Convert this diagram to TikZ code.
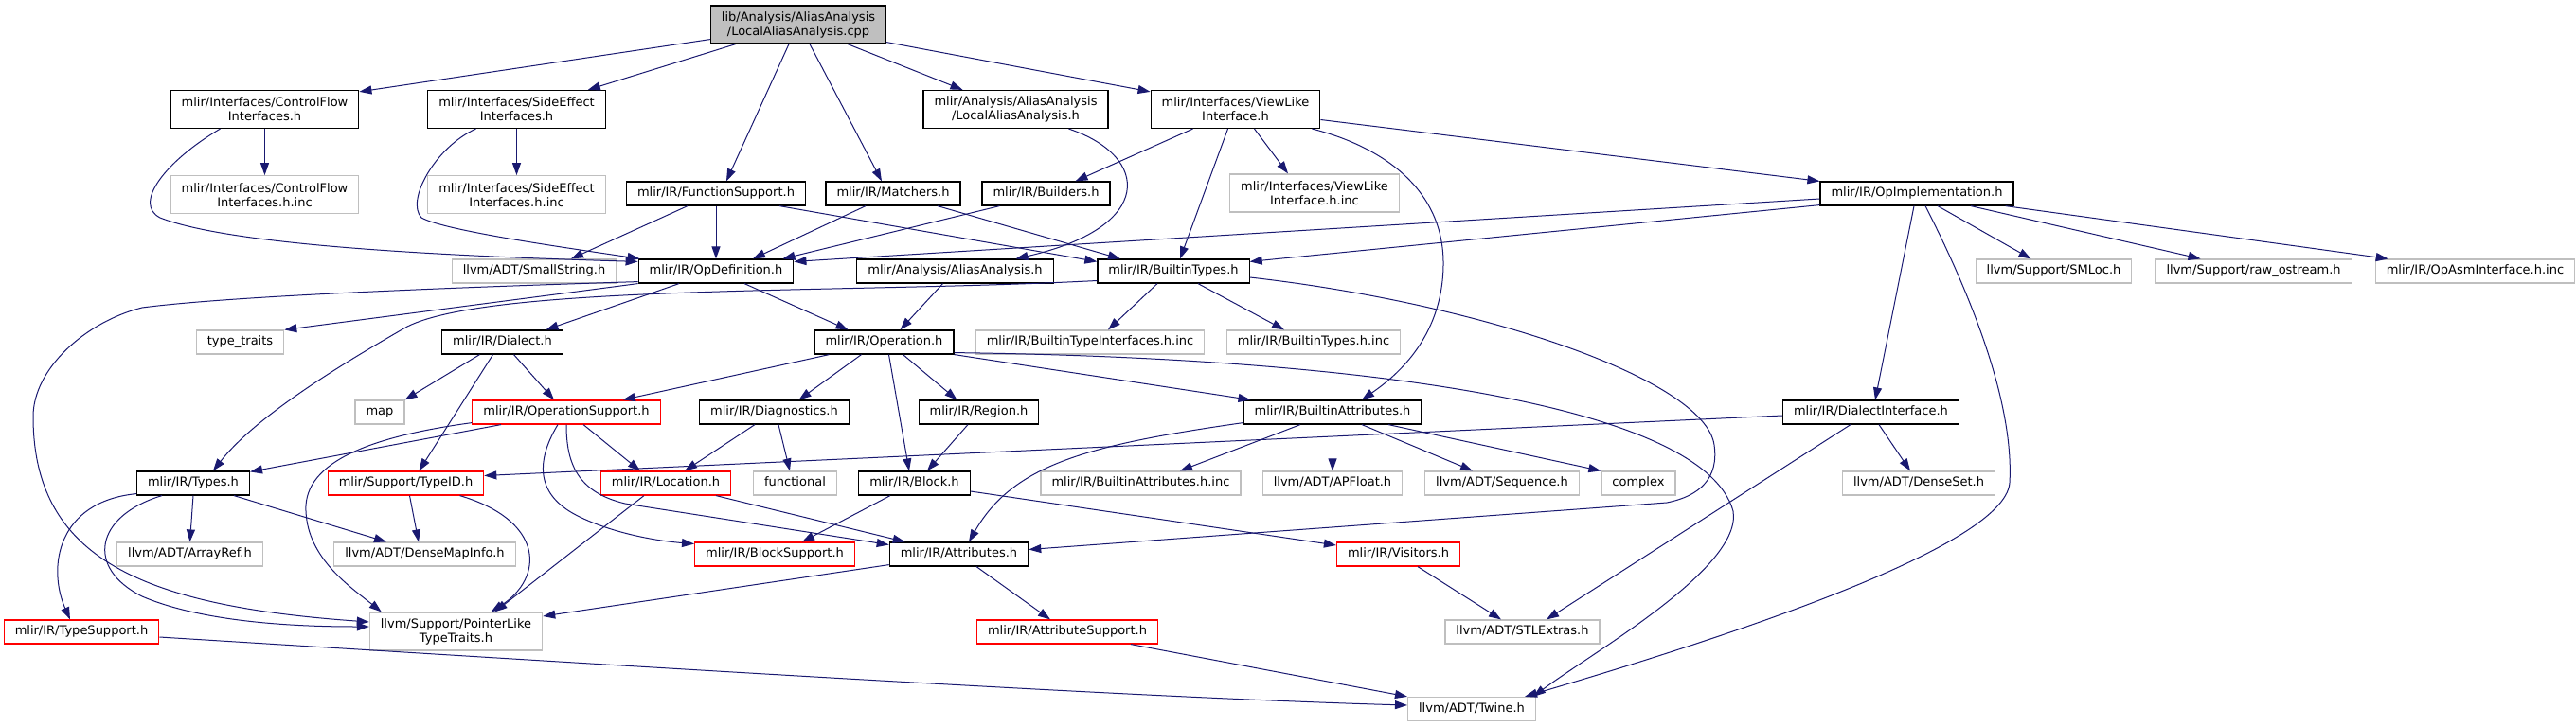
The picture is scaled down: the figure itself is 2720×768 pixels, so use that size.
\documentclass[tikz,border=0pt]{standalone}
\usepackage{fontspec}
\setmainfont{DejaVu Sans}
\usetikzlibrary{arrows.meta, positioning}
\definecolor{edgeblue}{RGB}{25,25,112}
\definecolor{boxgray}{RGB}{191,191,191}

\begin{document}
\begin{tikzpicture}[
    x=1pt, y=-1pt,
    node distance=49pt and 24pt,
    font=\fontsize{13}{15}\selectfont,
    hdr/.style={rectangle, draw=black, fill=white, line width=1.2pt, minimum height=25pt, inner xsep=11.5pt, inner ysep=2pt, text height=9.8pt, text depth=3pt, align=center},
    sys/.style={hdr, draw=boxgray},
    trunc/.style={hdr, draw=red},
    src/.style={hdr, fill=boxgray},
    two/.style={minimum height=40pt, text height={}, text depth={}},
    arrow/.style={-{Triangle[length=13pt, width=9pt]}, line width=1pt, draw=edgeblue}
]
\useasboundingbox (0,0) rectangle (2720,768);

% --- NODES ---
\node (cpp) [src, two] at (843,26) {lib/Analysis/AliasAnalysis\\/LocalAliasAnalysis.cpp};

\node (cfi) [hdr, two] at (279.5,115.5) {mlir/Interfaces/ControlFlow\\Interfaces.h};
\node (sei) [hdr, two] at (545.5,115.5) {mlir/Interfaces/SideEffect\\Interfaces.h};
\node (laah) [hdr, two] at (1072.5,115.5) {mlir/Analysis/AliasAnalysis\\/LocalAliasAnalysis.h};
\node (vli) [hdr, two] at (1304.5,115.5) {mlir/Interfaces/ViewLike\\Interface.h};

\node (cfinc) [sys, two, below=of cfi] {mlir/Interfaces/ControlFlow\\Interfaces.h.inc};
\node (seinc) [sys, two, below=of sei] {mlir/Interfaces/SideEffect\\Interfaces.h.inc};
\node (vlinc) [sys, two] at (1388,204) {mlir/Interfaces/ViewLike\\Interface.h.inc};
\node (fsup) [hdr] at (756,204.5) {mlir/IR/FunctionSupport.h};
\node (match) [hdr] at (943,204.5) {mlir/IR/Matchers.h};
\node (build) [hdr] at (1104.5,204.5) {mlir/IR/Builders.h};
\node (opimpl) [hdr] at (2024,204.5) {mlir/IR/OpImplementation.h};

\node (smallstr) [sys] at (564,286.5) {llvm/ADT/SmallString.h};
\node (opdef) [hdr] at (756,286.5) {mlir/IR/OpDefinition.h};
\node (aa) [hdr] at (1008.5,286.5) {mlir/Analysis/AliasAnalysis.h};
\node (btypes) [hdr] at (1239,286.5) {mlir/IR/BuiltinTypes.h};
\node (smloc) [sys] at (2168.5,286.5) {llvm/Support/SMLoc.h};
\node (rawos) [sys, right=of smloc] {llvm/Support/raw\_ostream.h};
\node (opasm) [sys, right=of rawos] {mlir/IR/OpAsmInterface.h.inc};

\node (stdtraits) [sys] at (253.5,361.5) {type\_traits};
\node (dialect) [hdr] at (530.5,361.5) {mlir/IR/Dialect.h};
\node (operation) [hdr] at (933.5,361.5) {mlir/IR/Operation.h};
\node (btiinc) [sys] at (1151,361.5) {mlir/IR/BuiltinTypeInterfaces.h.inc};
\node (btinc) [sys] at (1387,361.5) {mlir/IR/BuiltinTypes.h.inc};

\node (map) [sys] at (401,435.5) {map};
\node (opsup) [trunc] at (598,435.5) {mlir/IR/OperationSupport.h};
\node (diag) [hdr] at (817.5,435.5) {mlir/IR/Diagnostics.h};
\node (region) [hdr] at (1033.5,435.5) {mlir/IR/Region.h};
\node (battr) [hdr] at (1407,435.5) {mlir/IR/BuiltinAttributes.h};
\node (dialif) [hdr] at (1975.5,435.5) {mlir/IR/DialectInterface.h};

\node (types) [hdr] at (204,510.5) {mlir/IR/Types.h};
\node (typeid) [trunc] at (428.5,510.5) {mlir/Support/TypeID.h};
\node (location) [trunc] at (703,510.5) {mlir/IR/Location.h};
\node (functional) [sys] at (839.5,510.5) {functional};
\node (block) [hdr] at (965.5,510.5) {mlir/IR/Block.h};
\node (bainc) [sys] at (1204.5,510.5) {mlir/IR/BuiltinAttributes.h.inc};
\node (apfloat) [sys] at (1407,510.5) {llvm/ADT/APFloat.h};
\node (sequence) [sys] at (1586,510.5) {llvm/ADT/Sequence.h};
\node (complex) [sys] at (1730,510.5) {complex};
\node (denseset) [sys] at (2026,510.5) {llvm/ADT/DenseSet.h};

\node (arrayref) [sys] at (200.5,585.5) {llvm/ADT/ArrayRef.h};
\node (densemap) [sys] at (448.5,585.5) {llvm/ADT/DenseMapInfo.h};
\node (blocksup) [trunc] at (818,585.5) {mlir/IR/BlockSupport.h};
\node (attrs) [hdr] at (1012.5,585.5) {mlir/IR/Attributes.h};
\node (visitors) [trunc] at (1476.5,585.5) {mlir/IR/Visitors.h};

\node (typesup) [trunc] at (86,667.5) {mlir/IR/TypeSupport.h};
\node (ptrtraits) [sys, two] at (481.5,667) {llvm/Support/PointerLike\\TypeTraits.h};
\node (attrsup) [trunc] at (1127,667.5) {mlir/IR/AttributeSupport.h};
\node (stlextras) [sys] at (1607.5,667.5) {llvm/ADT/STLExtras.h};

\node (twine) [sys] at (1554,749) {llvm/ADT/Twine.h};

% --- CONNECTIONS ---

% 1. LocalAliasAnalysis.cpp
\draw [arrow] ([yshift=5pt]cpp.south west) -- ([yshift=-2pt]cfi.north east);
\draw [arrow] ([xshift=27pt]cpp.south west) -- ([xshift=-19pt]sei.north east);
\draw [arrow] ([xshift=-10pt]cpp.south) -- ([xshift=11pt]fsup.north);
\draw [arrow] ([xshift=12pt]cpp.south) -- ([xshift=-12pt]match.north);
\draw [arrow] ([xshift=52pt]cpp.south) -- ([xshift=-56pt]laah.north);
\draw [arrow] ([yshift=2pt]cpp.south east) -- ([yshift=-2pt]vli.north west);

% 2. Interfaces
\draw [arrow] (cfi) -- (cfinc);
\draw [arrow] ([xshift=-47pt]cfi.south) .. controls (175,170) and (140,215) .. (169,230)
    .. controls (240,258) and (450,270) .. ([yshift=-3pt]opdef.north west);
\draw [arrow] (sei) -- (seinc);
\draw [arrow] ([xshift=-43pt]sei.south) .. controls (460,155) and (428,212) .. (445,230)
    .. controls (470,244) and (600,262) .. ([xshift=2pt]opdef.north west);
\draw [arrow] ([xshift=56pt]laah.south) .. controls (1215,165) and (1220,240) .. ([xshift=64pt]aa.north);
\draw [arrow] ([xshift=-45pt]vli.south) -- ([xshift=31pt]build.north);
\draw [arrow] ([xshift=20pt]vli.south) -- ([xshift=-28pt]vlinc.north);
\draw [arrow] ([xshift=-8pt]vli.south) -- ([xshift=7pt]btypes.north);
\draw [arrow] ([yshift=-11pt]vli.east) -- (opimpl.north west);
\draw [arrow] ([xshift=-9pt]vli.south east) .. controls (1460,155) and (1525,200) .. (1524,280)
    .. controls (1523,360) and (1470,400) .. ([xshift=31pt]battr.north);

% 3. FunctionSupport, Matchers, Builders
\draw [arrow] ([xshift=-30pt]fsup.south) -- ([xshift=39pt]smallstr.north);
\draw [arrow] (fsup) -- (opdef);
\draw [arrow] ([xshift=67pt]fsup.south) -- ([yshift=-3pt]btypes.north west);
\draw [arrow] ([xshift=-29pt]match.south) -- ([xshift=39pt]opdef.north);
\draw [arrow] ([xshift=47pt]match.south) -- ([xshift=-56pt]btypes.north);
\draw [arrow] ([xshift=-49pt]build.south) -- ([xshift=-12pt]opdef.north east);

% 4. OpImplementation
\draw [arrow] ([yshift=-5.5pt]opimpl.west) -- ([yshift=-3pt]opdef.north east);
\draw [arrow] ([yshift=1pt]opimpl.south west) -- ([yshift=-3pt]btypes.north east);
\draw [arrow] ([xshift=22pt]opimpl.south) -- ([xshift=-24pt]smloc.north);
\draw [arrow] ([xshift=57pt]opimpl.south) -- ([xshift=-56pt]rawos.north);
\draw [arrow] ([xshift=-9pt]opimpl.south east) -- ([xshift=14pt]opasm.north west);
\draw [arrow] ([xshift=-3pt]opimpl.south) -- ([xshift=4.5pt]dialif.north);
\draw [arrow] ([xshift=9pt]opimpl.south) .. controls (2075,300) and (2127,420) .. (2122,510)
    .. controls (2117,580) and (1800,680) .. ([xshift=-12pt]twine.north east);

% 5. OpDefinition, AliasAnalysis, BuiltinTypes
\draw [arrow] (opdef.south west) -- (stdtraits.north east);
\draw [arrow] ([yshift=2pt]opdef.south west) .. controls (500,303) and (250,312) .. (150,325)
    .. controls (90,340) and (35,390) .. (35,440)
    .. controls (35,590) and (150,640) .. ([yshift=10pt]ptrtraits.west);
\draw [arrow] ([xshift=-39pt]opdef.south) -- ([xshift=46pt]dialect.north);
\draw [arrow] ([xshift=30pt]opdef.south) -- ([xshift=-38pt]operation.north);
\draw [arrow] ([xshift=-13pt]aa.south) -- ([xshift=17pt]operation.north);
\draw [arrow] ([yshift=-10pt]btypes.west) .. controls (900,310) and (520,300) .. (430,345)
    .. controls (360,385) and (270,440) .. ([xshift=21pt]types.north);
\draw [arrow] ([xshift=-17pt]btypes.south) -- ([xshift=19pt]btiinc.north);
\draw [arrow] ([xshift=26pt]btypes.south) -- ([xshift=-31pt]btinc.north);
\draw [arrow] ([yshift=-6.5pt]btypes.east) .. controls (1560,320) and (1800,400) .. (1810,470)
    .. controls (1815,505) and (1795,524) .. (1760,531) -- ([yshift=5pt]attrs.east);

% 6. Dialect, Operation
\draw [arrow] ([xshift=-24pt]dialect.south) -- (map.north east);
\draw [arrow] ([xshift=-10pt]dialect.south) -- ([xshift=14pt]typeid.north);
\draw [arrow] ([xshift=12pt]dialect.south) -- ([xshift=-13pt]opsup.north);
\draw [arrow] ([xshift=-58pt]operation.south) -- ([xshift=-40pt]opsup.north east);
\draw [arrow] ([xshift=-24pt]operation.south) -- ([xshift=26pt]diag.north);
\draw [arrow] ([xshift=5pt]operation.south) -- ([xshift=-5.5pt]block.north);
\draw [arrow] ([xshift=20pt]operation.south) -- ([xshift=-23pt]region.north);
\draw [arrow] (operation.south east) -- ([xshift=8pt]battr.north west);
\draw [arrow] ([yshift=2pt]operation.south east) .. controls (1450,378) and (1800,430) .. (1830,540)
    .. controls (1840,600) and (1680,690) .. ([xshift=-3pt]twine.north east);

% 7. OperationSupport, DialectInterface
\draw [arrow] ([xshift=-69pt]opsup.south) -- ([yshift=-1pt]types.north east);
\draw [arrow] ([yshift=2pt]opsup.south west) .. controls (400,460) and (320,485) .. (323,540)
    .. controls (325,590) and (370,620) .. ([xshift=13pt]ptrtraits.north west);
\draw [arrow] ([xshift=18pt]opsup.south) -- ([xshift=-27pt]location.north);
\draw [arrow] ([xshift=-9pt]opsup.south) .. controls (570,480) and (560,520) .. (610,545)
    .. controls (650,565) and (700,572) .. ([yshift=11pt]blocksup.west);
\draw [arrow] (opsup.south) .. controls (598,490) and (610,520) .. (660,532) -- ([yshift=10pt]attrs.west);
\draw [arrow] ([yshift=-3.5pt]dialif.west) -- ([yshift=8pt]typeid.east);
\draw [arrow] ([xshift=-21.5pt]dialif.south) -- ([xshift=25.5pt]stlextras.north);
\draw [arrow] ([xshift=8.5pt]dialif.south) -- ([xshift=-9pt]denseset.north);

% 8. TypeID, Location, Types
\draw [arrow] ([xshift=4pt]typeid.south) -- ([xshift=-6.5pt]densemap.north);
\draw [arrow] ([xshift=57pt]typeid.south) .. controls (575,550) and (575,610) .. ([xshift=37pt]ptrtraits.north);
\draw [arrow] ([xshift=-23pt]location.south) -- ([xshift=41pt]ptrtraits.north);
\draw [arrow] ([xshift=53pt]location.south) -- ([xshift=17pt]attrs.north west);
\draw [arrow] ([yshift=2pt]types.south west) .. controls (60,530) and (50,600) .. ([xshift=-12pt]typesup.north);
\draw [arrow] ([xshift=-33pt]types.south) .. controls (100,545) and (90,600) .. (150,630)
    .. controls (220,660) and (330,662) .. ([yshift=5pt]ptrtraits.west);
\draw [arrow] (types.south) -- (arrayref.north);
\draw [arrow] ([xshift=43pt]types.south) -- ([xshift=-40.5pt]densemap.north);
\draw [arrow] ([yshift=-5.5pt]typesup.east) .. controls (700,706) and (1200,737) .. ([yshift=4pt]twine.west);

% 9. Diagnostics, Region, Block
\draw [arrow] ([xshift=-20.5pt]diag.south) -- ([xshift=20pt]location.north);
\draw [arrow] ([xshift=4.5pt]diag.south) -- ([xshift=-5.5pt]functional.north);
\draw [arrow] ([xshift=-11.5pt]region.south) -- ([xshift=13.5pt]block.north);
\draw [arrow] ([xshift=-25.5pt]block.south) -- ([xshift=29pt]blocksup.north);
\draw [arrow] ([yshift=-8.5pt]block.east) -- ([yshift=9.5pt]visitors.west);

% 10. BuiltinAttributes, Attributes, Visitors
\draw [arrow] ([yshift=2pt]battr.south west) .. controls (1150,470) and (1070,490) .. ([xshift=10.5pt]attrs.north);
\draw [arrow] ([xshift=-34pt]battr.south) -- ([xshift=41.5pt]bainc.north);
\draw [arrow] (battr) -- (apfloat);
\draw [arrow] ([xshift=31pt]battr.south) -- ([xshift=-31pt]sequence.north);
\draw [arrow] ([xshift=59pt]battr.south) -- (complex.north west);
\draw [arrow] ([yshift=2pt]attrs.south west) -- ([yshift=16pt]ptrtraits.east);
\draw [arrow] ([xshift=18.5pt]attrs.south) -- ([xshift=-18pt]attrsup.north);
\draw [arrow] ([xshift=67pt]attrsup.south) -- (twine.north west);
\draw [arrow] ([xshift=20.5pt]visitors.south) -- ([xshift=-22.5pt]stlextras.north);

\end{tikzpicture}
\end{document}
